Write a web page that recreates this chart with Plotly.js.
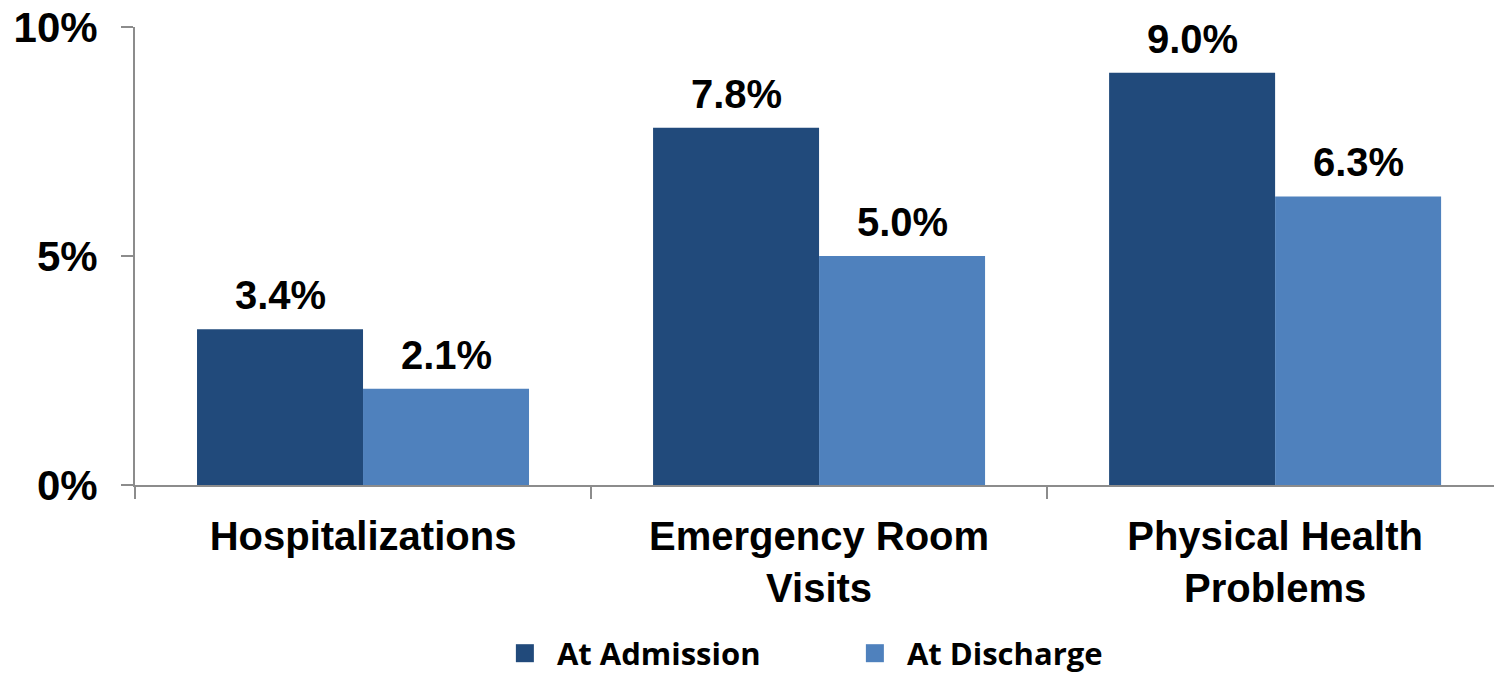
<!DOCTYPE html>
<html>
<head>
<meta charset="utf-8">
<script src="https://cdn.plot.ly/plotly-3.0.1.min.js"></script>
<style>
html,body{margin:0;padding:0;background:#fff;}
#chart{width:1494px;height:676px;}
#chart .legend .scrollbox{clip-path:none !important;}
#chart .legend .legendpoints path{transform-box:fill-box;transform-origin:center;transform:translateX(8px) scale(1.5);}
</style>
</head>
<body>
<div id="chart"></div>
<script>
const categories = ['Hospitalizations', 'Emergency Room<br>Visits', 'Physical Health<br>Problems'];
const seriesNames = ['At Admission', 'At Discharge'];
const admission = [3.4, 7.8, 9.0];
const discharge = [2.1, 5.0, 6.3];
const yTickVals = [0, 5, 10];
const yTickText = ['0%', '5%', '10%'];

const colors = ['#214A7B', '#4F81BD'];
const series = [admission, discharge];
const fontFam = '"Liberation Sans", Arial, sans-serif';

const traces = series.map((vals, i) => ({
  type: 'bar',
  name: seriesNames[i],
  x: categories,
  y: vals,
  marker: {color: colors[i], line: {width: 0}},
  hoverinfo: 'skip'
}));

const annotations = [];
series.forEach((vals, i) => {
  vals.forEach((v, j) => {
    annotations.push({
      x: categories[j], y: v, xref: 'x', yref: 'y',
      text: v.toFixed(1) + '%',
      showarrow: false,
      yanchor: 'bottom',
      xshift: (i === 0 ? -1 : 1) * 83,
      yshift: 10,
      font: {family: fontFam, size: 40, color: '#000', weight: 700}
    });
  });
});

const layout = {
  width: 1494, height: 676,
  margin: {l: 135, r: 0, t: 27, b: 191, pad: 0, autoexpand: false},
  paper_bgcolor: '#fff', plot_bgcolor: '#fff',
  barmode: 'group',
  bargap: 0.272,
  bargroupgap: 0,
  showlegend: true,
  legend: {
    orientation: 'h', x: 0.281, xanchor: 'left', y: -0.368, yanchor: 'middle',
    font: {family: '"Open Sans", sans-serif', size: 31, color: '#000', weight: 700},
    entrywidth: 305, entrywidthmode: 'pixels',
    traceorder: 'normal'
  },
  xaxis: {
    type: 'category',
    range: [-0.5, 2.48],
    showline: true, linecolor: '#8C8C8C', linewidth: 2,
    ticks: 'outside', tickson: 'boundaries', ticklen: 12, tickcolor: '#8C8C8C', tickwidth: 2,
    showgrid: false, zeroline: false, automargin: false,
    tickfont: {family: fontFam, size: 40, color: '#000', weight: 700},
    ticklabelstandoff: 15,
    fixedrange: true
  },
  yaxis: {
    range: [0, 10],
    tickvals: yTickVals, ticktext: yTickText,
    showline: true, linecolor: '#8C8C8C', linewidth: 2,
    ticks: 'outside', ticklen: 12, tickcolor: '#8C8C8C', tickwidth: 2,
    showgrid: false, zeroline: false, automargin: false,
    tickfont: {family: fontFam, size: 42, color: '#000', weight: 700},
    ticklabelstandoff: 15,
    fixedrange: true
  },
  annotations: annotations
};

Plotly.newPlot('chart', traces, layout, {displayModeBar: false, staticPlot: true});
</script>
</body>
</html>
